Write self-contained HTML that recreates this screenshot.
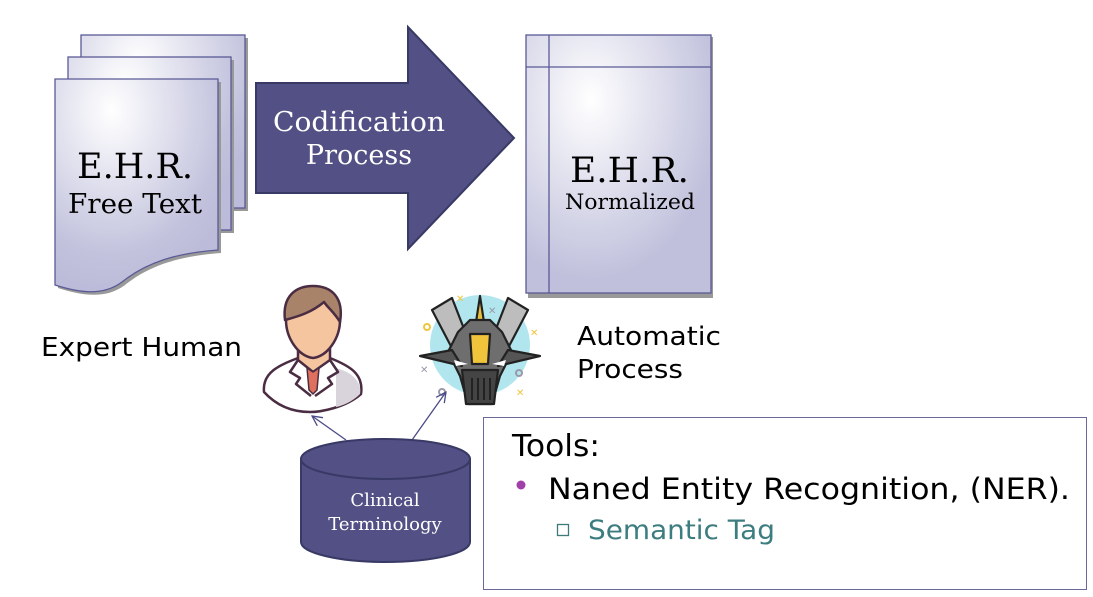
<!DOCTYPE html>
<html><head><meta charset="utf-8"><style>
html,body{margin:0;padding:0;background:#fff;}
svg{display:block;}
</style></head><body>
<svg width="1093" height="597" viewBox="0 0 1093 597" xmlns="http://www.w3.org/2000/svg">
<defs>
<radialGradient id="g" cx="0.35" cy="0.15" r="0.85">
<stop offset="0" stop-color="#ffffff"/><stop offset="0.8" stop-color="#c2c2dd"/><stop offset="1" stop-color="#bcbcda"/>
</radialGradient>
<radialGradient id="g2" cx="0.35" cy="0.25" r="0.7">
<stop offset="0" stop-color="#ffffff"/><stop offset="1" stop-color="#c0c0dc"/>
</radialGradient>
<marker id="ar" viewBox="0 0 12 12" refX="11" refY="6" markerWidth="12" markerHeight="12" markerUnits="userSpaceOnUse" orient="auto">
<path d="M1,1 L11,6 L1,11" fill="none" stroke="#4a4a88" stroke-width="1.3"/>
</marker>
</defs>
<rect x="84" y="38" width="164" height="173" fill="#999"/>
<rect x="81" y="35" width="164" height="173" fill="url(#g)" stroke="#5a5a96" stroke-width="1.3"/>
<rect x="71" y="60" width="163" height="173" fill="#999"/>
<rect x="68" y="57" width="163" height="173" fill="url(#g)" stroke="#5a5a96" stroke-width="1.3"/>
<path d="M58,82 H221 V253 C180,256 150,265 125,285 C105,300 80,295 58,288 Z" fill="#999"/>
<path d="M55,79 H218 V250 C177,253 147,262 122,282 C102,297 77,292 55,285 Z" fill="url(#g)" stroke="#5a5a96" stroke-width="1.3"/>
<text x="77" y="178" font-family="DejaVu Serif, serif" font-size="35" textLength="116" lengthAdjust="spacingAndGlyphs">E.H.R.</text>
<text x="68" y="213" font-family="DejaVu Serif, serif" font-size="27" textLength="134" lengthAdjust="spacingAndGlyphs">Free Text</text>
<path d="M256,83 H408 V27 L514,138 L408,249 V193 H256 Z" fill="#525084" stroke="#393966" stroke-width="2"/>
<text x="273" y="131" font-family="DejaVu Serif, serif" font-size="27" fill="#fff" textLength="172" lengthAdjust="spacingAndGlyphs">Codification</text>
<text x="359" y="164" font-family="DejaVu Serif, serif" font-size="27" fill="#fff" text-anchor="middle">Process</text>
<rect x="528" y="37" width="185" height="261" fill="#999"/>
<rect x="526" y="35" width="185" height="258" fill="url(#g2)" stroke="#5a5a96" stroke-width="1.3"/>
<line x1="549" y1="35" x2="549" y2="293" stroke="#5a5a96" stroke-width="1.3"/>
<line x1="526" y1="67" x2="711" y2="67" stroke="#5a5a96" stroke-width="1.3"/>
<text x="570" y="182" font-family="DejaVu Serif, serif" font-size="35" textLength="119" lengthAdjust="spacingAndGlyphs">E.H.R.</text>
<text x="565" y="209" font-family="DejaVu Serif, serif" font-size="21" textLength="130" lengthAdjust="spacingAndGlyphs">Normalized</text>
<text x="41" y="356" font-family="DejaVu Sans, sans-serif" font-size="26" textLength="201" lengthAdjust="spacingAndGlyphs">Expert Human</text>
<text x="577" y="345" font-family="DejaVu Sans, sans-serif" font-size="26" textLength="144" lengthAdjust="spacingAndGlyphs">Automatic</text>
<text x="577" y="378" font-family="DejaVu Sans, sans-serif" font-size="26" textLength="106" lengthAdjust="spacingAndGlyphs">Process</text>
<g stroke="#4a2d42" stroke-width="2.5" stroke-linejoin="round">
<path d="M264,392 C262,372 280,365 298,358 L330,358 C350,366 364,374 361,394 C345,408 320,412 310,412 C290,412 275,404 264,392 Z" fill="#fff"/>
<path d="M336,368 C352,372 362,382 360,394 C352,402 342,406 336,407 Z" fill="#d9d3dc" stroke="none"/>
<path d="M298,340 L298,360 L313,372 L330,360 L330,340 Z" fill="#f5c5a0"/>
<path d="M286,320 C286,300 296,292 313,292 C330,292 340,302 340,320 C340,338 328,356 313,358 C298,356 286,338 286,320 Z" fill="#f5c5a0"/>
<path d="M285,320 C282,296 296,286 313,286 C332,286 344,298 340,322 C334,312 328,308 324,302 C312,312 300,316 285,320 Z" fill="#a8836a"/>
<path d="M307,368 L313,372 L319,368 L317,390 L313,394 L309,390 Z" fill="#e0705e" stroke-width="1.5"/>
<path d="M298,360 L290,372 L300,378 L296,384 L311,396" fill="none"/>
<path d="M330,360 L338,372 L328,378 L332,384 L315,396" fill="none"/>
</g>
<circle cx="480" cy="345" r="50" fill="#b2e6ef"/>
<g stroke="#222" stroke-width="2.2" stroke-linejoin="round">
<path d="M432,310 L452,298 L466,334 L454,352 Z" fill="#bdbdbd"/>
<path d="M528,310 L508,298 L494,334 L506,352 Z" fill="#bdbdbd"/>
<path d="M480,296 L484,322 L476,322 Z" fill="#e8c040"/>
<path d="M458,332 L470,320 L490,320 L502,332 L512,352 L500,376 L492,404 L468,404 L460,376 L448,352 Z" fill="#6e6e6e"/>
<path d="M420,356 L452,350 L462,366 Z" fill="#555"/>
<path d="M540,356 L508,350 L498,366 Z" fill="#555"/>
<path d="M470,334 L490,334 L488,364 L472,364 Z" fill="#f0c53c"/>
<path d="M462,370 L498,370 L494,404 L466,404 Z" fill="#444"/>
</g>
<g stroke="#222" stroke-width="2"><line x1="472" y1="378" x2="472" y2="400"/><line x1="478" y1="378" x2="478" y2="400"/><line x1="484" y1="378" x2="484" y2="400"/><line x1="490" y1="378" x2="490" y2="400"/></g>
<path d="M454,360 L468,364 L456,366 Z M506,360 L492,364 L504,366 Z" fill="#fff"/>
<text x="456" y="302" font-size="10" fill="#f0c53c" font-family="DejaVu Sans">✕</text>
<text x="530" y="336" font-size="10" fill="#f0c53c" font-family="DejaVu Sans">✕</text>
<text x="516" y="396" font-size="10" fill="#f0c53c" font-family="DejaVu Sans">✕</text>
<text x="488" y="314" font-size="10" fill="#99a" font-family="DejaVu Sans">✕</text>
<text x="420" y="373" font-size="10" fill="#99a" font-family="DejaVu Sans">✕</text>
<circle cx="427" cy="327" r="3" fill="none" stroke="#f0c53c" stroke-width="2"/>
<circle cx="519" cy="373" r="3" fill="none" stroke="#99a" stroke-width="2"/>
<circle cx="442" cy="392" r="3" fill="none" stroke="#99a" stroke-width="2"/>
<line x1="346" y1="440" x2="312" y2="416" stroke="#4a4a88" stroke-width="1.3" marker-end="url(#ar)"/>
<line x1="412" y1="440" x2="446" y2="392" stroke="#4a4a88" stroke-width="1.3" marker-end="url(#ar)"/>
<path d="M301,459 V542 A84.5,20 0 0 0 470,542 V459 Z" fill="#525084" stroke="#393966" stroke-width="2"/>
<ellipse cx="385.5" cy="459" rx="84.5" ry="20" fill="#525084" stroke="#393966" stroke-width="2"/>
<text x="385" y="506" font-family="DejaVu Serif, serif" font-size="18" fill="#fff" text-anchor="middle">Clinical</text>
<text x="385" y="530" font-family="DejaVu Serif, serif" font-size="18" fill="#fff" text-anchor="middle">Terminology</text>
<rect x="483.5" y="417.5" width="603" height="172" fill="#fff" stroke="#6a6a9a" stroke-width="1"/>
<text x="512" y="456" font-family="DejaVu Sans, sans-serif" font-size="30" textLength="88" lengthAdjust="spacingAndGlyphs">Tools:</text>
<circle cx="521" cy="485" r="4.5" fill="#a040a8"/>
<text x="548" y="499" font-family="DejaVu Sans, sans-serif" font-size="29" textLength="522" lengthAdjust="spacingAndGlyphs">Naned Entity Recognition, (NER).</text>
<rect x="557.5" y="524.5" width="11" height="11" fill="none" stroke="#3d7a7a" stroke-width="1.3"/>
<text x="588" y="539" font-family="DejaVu Sans, sans-serif" font-size="27" fill="#3d7d80" textLength="187" lengthAdjust="spacingAndGlyphs">Semantic Tag</text>
</svg>
</body></html>
